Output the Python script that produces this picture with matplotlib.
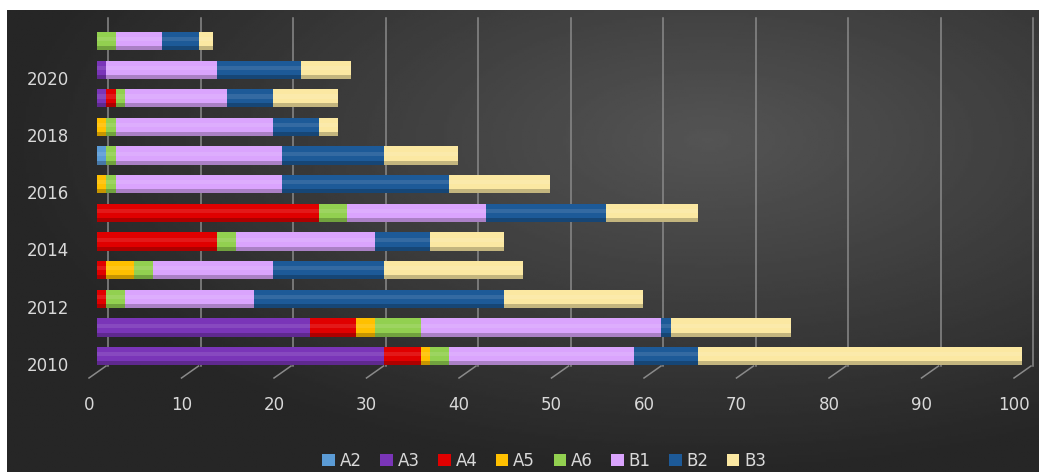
import numpy as np
import matplotlib
matplotlib.use("Agg")
import matplotlib.pyplot as plt
import matplotlib.transforms as mtransforms

# years bottom -> top
years = [2010, 2011, 2012, 2013, 2014, 2015, 2016, 2017, 2018, 2019, 2020, 2021]
series = ["A2", "A3", "A4", "A5", "A6", "B1", "B2", "B3"]

A2 = [0, 0, 0, 0, 0, 0, 0, 1, 0, 0, 0, 0]
A3 = [31, 23, 0, 0, 0, 0, 0, 0, 0, 1, 1, 0]
A4 = [4, 5, 1, 1, 13, 24, 0, 0, 0, 1, 0, 0]
A5 = [1, 2, 0, 3, 0, 0, 1, 0, 1, 0, 0, 0]
A6 = [2, 5, 2, 2, 2, 3, 1, 1, 1, 1, 0, 2]
B1 = [20, 26, 14, 13, 15, 15, 18, 18, 17, 11, 12, 5]
B2 = [7, 1, 27, 12, 6, 13, 18, 11, 5, 5, 9, 4]
B3 = [35, 13, 15, 15, 8, 10, 11, 8, 2, 7, 5.5, 1.5]

colors = ["#5b9bd5", "#7a35b8", "#e00000", "#ffc000", "#92d050",
          "#daa4fd", "#1d5a98", "#fbe8a2"]

W, H = 1039, 472
fig = plt.figure(figsize=(W / 100, H / 100), dpi=100)
fig.patch.set_facecolor("white")

# dark gradient background (white strip at top/left like the source image)
bg = fig.add_axes([7 / W, 0, 1 - 7 / W, 1 - 10 / H], zorder=-10)
yy, xx = np.mgrid[1:0:200j, 0:1:400j]
r = np.sqrt(((xx - 0.68) / 0.75) ** 2 + ((yy - 0.72) / 0.8) ** 2)
grad = np.clip(0.33 - 0.2 * r, 0.15, 1)
bg.imshow(grad, cmap="gray", vmin=0, vmax=1, aspect="auto",
          extent=[0, 1, 0, 1])
bg.axis("off")

ax = fig.add_axes([97 / W, (H - 378) / H, 925 / W, 363 / H])
ax.patch.set_alpha(0)

px = fig.dpi_scale_trans
ticks = np.arange(0, 101, 10)

# back-wall gridlines (shifted by the 3D depth) and floor diagonals
xt = ax.get_xaxis_transform()
shift = mtransforms.ScaledTranslation(11 / 100, 0, px)
for v in ticks:
    ax.plot([v, v], [0.033, 0.992], color="#8a8a8a", lw=1.1, zorder=1,
            clip_on=False, transform=xt + shift)
    ax.plot([v + 9 / 9.25, v - 8 / 9.25], [0.033, 0.0], color="#8a8a8a",
            lw=1.1, zorder=1, clip_on=False, transform=xt)

data = [A2, A3, A4, A5, A6, B1, B2, B3]
ypos = np.arange(len(years))
left = np.zeros(len(years))
h = 0.64
for name, vals, c in zip(series, data, colors):
    vals = np.array(vals, dtype=float)
    ax.barh(ypos, vals, left=left, height=h, color=c, label=name,
            edgecolor="none", zorder=3)
    # cylinder highlight / shadow
    ax.barh(ypos + h * 0.1, vals, left=left, height=h * 0.22,
            color="white", alpha=0.10, edgecolor="none", zorder=4)
    ax.barh(ypos - h * 0.39, vals, left=left, height=h * 0.22,
            color="black", alpha=0.22, edgecolor="none", zorder=4)
    left += vals

ax.set_xlim(0, 100)
ax.set_ylim(-0.768, 11.91)
ax.set_xticks(ticks)
ax.set_yticks(ypos[::2])
ax.set_yticklabels([str(y) for y in years[::2]])
ax.tick_params(axis="both", colors="#d9d9d9", labelsize=12, length=0)
ax.tick_params(axis="y", pad=20)
ax.tick_params(axis="x", pad=13)
for lab in ax.get_yticklabels():
    lab.set_transform(lab.get_transform() +
                      mtransforms.ScaledTranslation(0, -8 / 100, px))
for lab in ax.get_xticklabels():
    lab.set_transform(lab.get_transform() +
                      mtransforms.ScaledTranslation(-8 / 100, 0, px))
for s in ax.spines.values():
    s.set_visible(False)

leg = fig.legend(loc="lower center", ncol=8, frameon=False,
                 bbox_to_anchor=(0.524, -0.027), fontsize=12,
                 handlelength=0.75, handleheight=0.75, handletextpad=0.3,
                 columnspacing=1.1)
for t in leg.get_texts():
    t.set_color("#d9d9d9")

fig.savefig("out.png", dpi=100, facecolor=fig.get_facecolor())
